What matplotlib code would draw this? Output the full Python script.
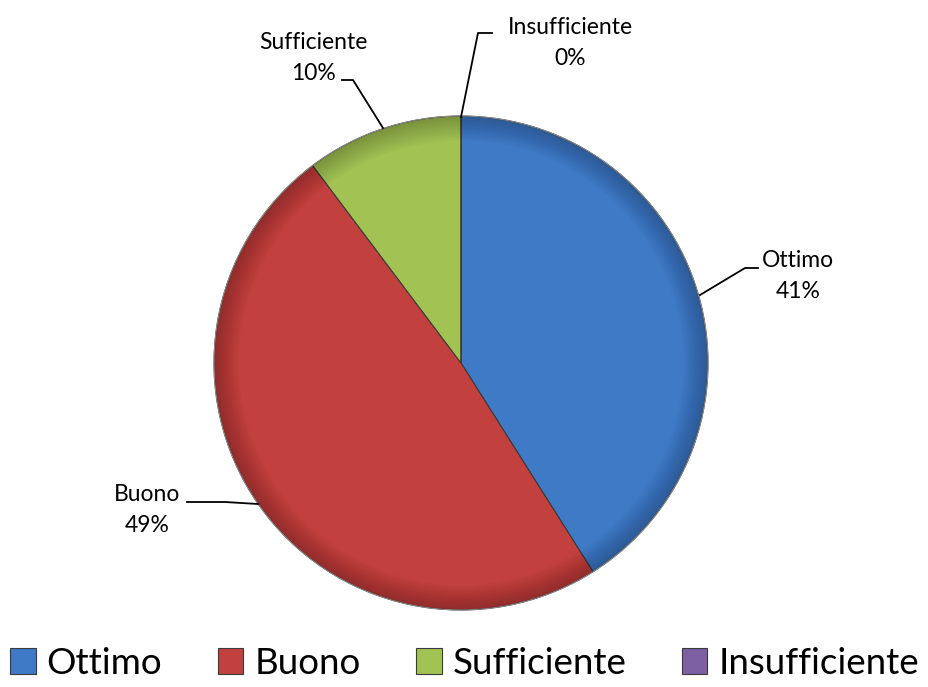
import matplotlib
matplotlib.use("Agg")
import matplotlib.pyplot as plt
import numpy as np
from matplotlib.patches import Wedge, Circle

categories = ["Ottimo", "Buono", "Sufficiente", "Insufficiente"]
values = [16, 19, 4, 0]
colors = ["#3f7ac6", "#c2403e", "#a2c254", "#7d5fa3"]

plt.rcParams['font.family'] = ['Lato', 'DejaVu Sans']

W, H = 929, 687
fig = plt.figure(figsize=(W/100, H/100), dpi=100)
ax = fig.add_axes([0, 0, 1, 1])

cx, cy, R = 461, H - 363, 247
wedges, _ = ax.pie(values, colors=colors, startangle=90, counterclock=False,
                   center=(cx, cy), radius=R, frame=True,
                   wedgeprops=dict(edgecolor="#3a3a3a", linewidth=0.8))
ax.set_xlim(0, W)
ax.set_ylim(0, H)
ax.set_aspect('equal')
ax.axis('off')

# subtle edge shading
n = 12
for i in range(n):
    r_in = R * (0.90 + 0.10 * i / n)
    ax.add_patch(Wedge((cx, cy), R, 0, 360, width=R - r_in,
                       facecolor="black", alpha=0.018, linewidth=0, zorder=3))
ax.add_patch(Circle((cx, cy), R, fill=False, edgecolor="#999999", linewidth=0.6, zorder=4))

total = sum(values)
pct = [f"{round(v / total * 100)}%" for v in values]

fs = 16.5
label_pos = [(798, 276), (147, 510), (313, 58), (570, 43)]
leaders = [
    [(700, 295), (745, 268), (758, 268)],
    [(258, 504), (225, 502), (187, 502)],
    [(383, 128), (353, 80), (342, 80)],
    [(461, 117), (478, 33), (492, 33)],
]
for (lx, ly), cat, p, ld in zip(label_pos, categories, pct, leaders):
    ax.text(lx, H - ly, f"{cat}\n{p}", ha='center', va='center', fontsize=fs,
            linespacing=1.6, color='black')
    xs = [q[0] for q in ld]
    ys = [H - q[1] for q in ld]
    ax.plot(xs, ys, color='black', linewidth=1.3, zorder=5)

fig.legend(wedges, categories, loc='center', bbox_to_anchor=(0.5, 1 - 663 / H),
           ncol=4, frameon=False, fontsize=26.5, handlelength=0.7, handleheight=0.7,
           handletextpad=0.3, columnspacing=1.5, borderpad=0)

fig.savefig("out.png", dpi=100)
